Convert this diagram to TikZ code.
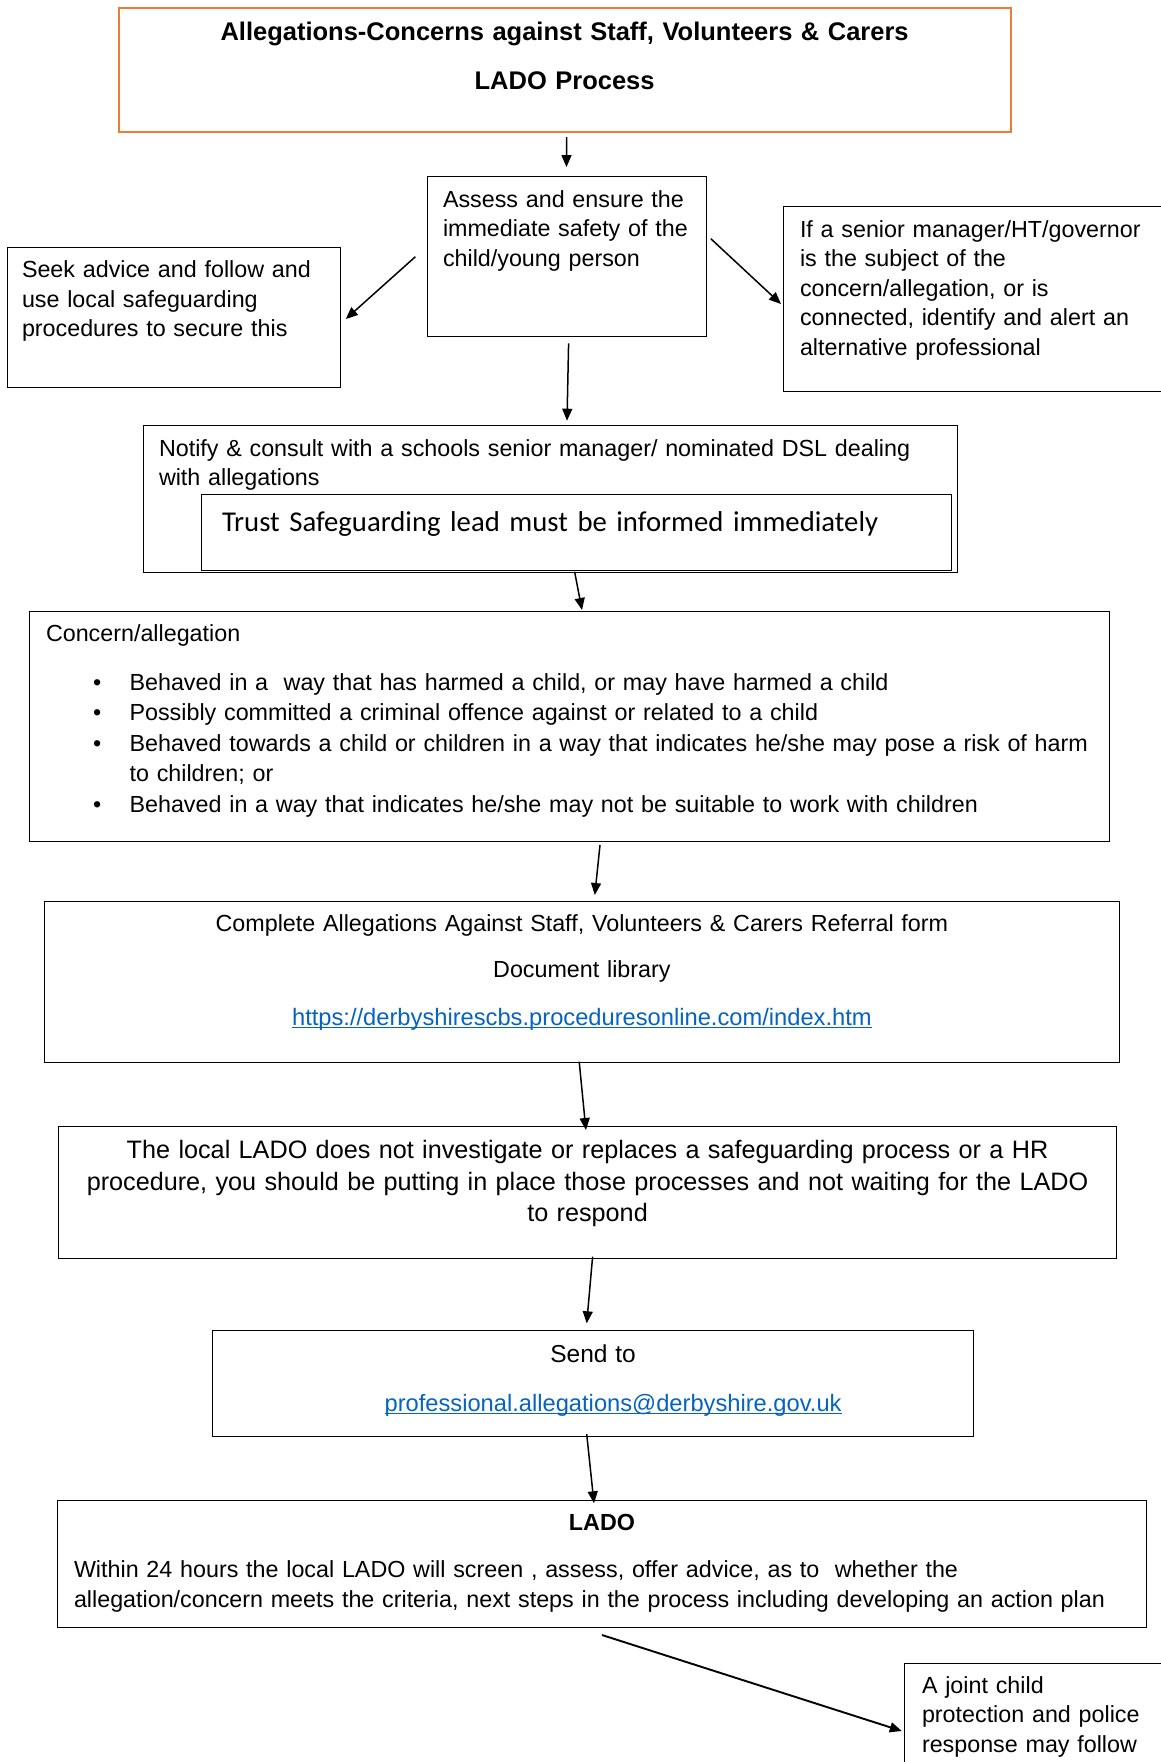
\documentclass[tikz,border=0pt]{standalone}
\usepackage{fontspec}
\setmainfont{Liberation Sans}
\newfontfamily\trustfont{Carlito}
\usetikzlibrary{positioning, arrows.meta, calc}
\definecolor{lado_orange}{RGB}{237,125,49}
\definecolor{lado_link}{RGB}{5,99,193}
\newcommand{\bodyfont}{\fontsize{23.3pt}{29.5pt}\selectfont}
\newsavebox\linkbox
\newcommand{\weblink}[1]{\leavevmode{\color{lado_link}\fontsize{23.7pt}{29.5pt}\selectfont\sbox\linkbox{#1}\rlap{\rule[-3.4pt]{\wd\linkbox}{1.4pt}}\usebox\linkbox}}

\begin{document}
\begin{tikzpicture}[
            x=1pt, y=-1pt,
            box/.style={rectangle, draw=black, line width=1pt, anchor=north west, inner ysep=0pt, outer sep=0pt, align=left, font=\bodyfont},
            flow/.style={line width=1.5pt, -{Triangle[length=12pt,width=10pt]}}
        ]
            \fill[white] (0,0) rectangle (1161,1762);
            \useasboundingbox (0,0) rectangle (1161,1762);

            % Heading
            \node[box, draw=lado_orange, line width=2pt, align=center, inner xsep=10pt, text width=872.2pt, text height=32.4pt, text depth=91pt, font=\fontsize{25.5pt}{29.5pt}\selectfont\bfseries] (title) at (118.5,8.3) {Allegations-Concerns against Staff, Volunteers \& Carers\\[18.8pt]LADO Process};

            % First step and its two side branches
            \node[box, inner xsep=16pt, text width=247pt, text height=30.3pt, text depth=129.7pt] (assess) at (427,176.7) {Assess and ensure the\\\mbox{immediate safety of the}\\child/young person};
            \node[box, inner xsep=14.6pt, text width=304pt, text height=30.4pt, text depth=110pt] (seek) at (7.4,247.3) {Seek advice and follow and\\use local safeguarding\\procedures to secure this};
            \node[box, inner xsep=16.6pt, text width=400pt, text height=30.3pt, text depth=154.7pt] (senior) at (783.4,206.7) {If a senior manager/HT/governor\\is the subject of the\\concern/allegation, or is\\connected, identify and alert an\\alternative professional};

            % Notify, with the trust box inside
            \node[box, inner xsep=16pt, text width=782.4pt, text height=31pt, text depth=116.3pt] (notify) at (143,425) {Notify \& consult with a schools senior manager/ nominated DSL dealing\\with allegations};
            \node[box, inner xsep=20.6pt, text width=708.8pt, text height=37.4pt, text depth=38.6pt, font=\trustfont\fontsize{28.7pt}{34pt}\selectfont] (trust) at (201.4,494.3) {Trust Safeguarding lead must be informed immediately};

            % Concern list
            \node[box, inner xsep=16.4pt, text width=1046.7pt, text height=30.7pt, text depth=200pt, font=\fontsize{23.3pt}{30.5pt}\selectfont] (concern) at (29.6,611) {Concern/allegation\\[17.8pt]
                \hspace*{47pt}\makebox[36.6pt][l]{\textbullet}\mbox{Behaved in a~ way that has harmed a child, or may have harmed a child}\\
                \hspace*{47pt}\makebox[36.6pt][l]{\textbullet}\mbox{Possibly committed a criminal offence against or related to a child}\\
                \hspace*{47pt}\makebox[36.6pt][l]{\textbullet}\mbox{Behaved towards a child or children in a way that indicates he/she may pose a risk of harm}\\
                \hspace*{83.6pt}to children; or\\
                \hspace*{47pt}\makebox[36.6pt][l]{\textbullet}\mbox{Behaved in a way that indicates he/she may not be suitable to work with children}};

            % Referral form
            \node[box, align=center, inner xsep=16pt, text width=1043pt, text height=30.7pt, text depth=131pt] (complete) at (44.4,901) {Complete Allegations Against Staff, Volunteers \& Carers Referral form\\[16.5pt]Document library\\[17.8pt]\weblink{https://derbyshirescbs.proceduresonline.com/index.htm}};

            \node[box, align=center, inner xsep=20pt, text width=1018.1pt, text height=32.3pt, text depth=100pt, font=\fontsize{25.2pt}{31.7pt}\selectfont] (local) at (58.5,1126) {The local LADO does not investigate or replaces a safeguarding process or a HR\\procedure, you should be putting in place those processes and not waiting for the LADO\\to respond};

            \node[box, align=center, inner xsep=16pt, text width=729.2pt, text height=31.3pt, text depth=74pt] (send) at (212.5,1330.7) {\fontsize{24.5pt}{29.5pt}\selectfont Send to\\[19.5pt]\hspace*{40pt}\weblink{professional.allegations@derbyshire.gov.uk}};

            % LADO and the last branch
            \node[box, inner xsep=16.2pt, text width=1056pt, text height=29.3pt, text depth=97.7pt] (lado) at (57.8,1500.7) {\makebox[\linewidth]{\bfseries LADO}\\[18.2pt]Within 24 hours the local LADO will screen , assess, offer advice, as to~ whether the\\allegation/concern meets the criteria, next steps in the process including developing an action plan};
            \node[box, inner xsep=17.2pt, text width=300pt, text height=30pt, text depth=120pt] (joint) at (904.8,1663.3) {A joint child\\protection and police\\response may follow};

            % Arrows
            \draw[flow] ($(title.south)+(1.9,5.3)$) -- ($(assess.north)+(0,-9.7)$);
            \draw[flow] ($(assess.west)+(-11.6,0)$) -- ($(seek.east)+(5.2,1.5)$);
            \draw[flow] ($(assess.east)+(4.8,-18)$) -- ($(senior.west)+(-2.4,4.8)$);
            \draw[flow] ($(assess.south)+(2.1,6.6)$) -- ($(notify.north)+(16.8,-4.3)$);
            \draw[flow] ($(notify.south)+(24.4,-0.6)$) -- ($(concern.north)+(12.65,-1)$);
            \draw[flow] ($(concern.south)+(30.65,3.3)$) -- ($(complete.north)+(12.9,-6)$);
            \draw[flow] ($(complete.south)+(-2.7,-1)$) -- ($(local.north)+(-1.65,4)$);
            \draw[flow] ($(local.south)+(5.05,-1.6)$) -- ($(send.north)+(-6.4,-7.4)$);
            \draw[flow] ($(send.south)+(-6.4,-2)$) -- ($(lado.north)+(-8,2.6)$);
            \draw[flow, line width=1.9pt] ($(lado.south)+(0,7.3)$) -- ($(joint.north west)+(-3,67.7)$);
        \end{tikzpicture}
\end{document}
